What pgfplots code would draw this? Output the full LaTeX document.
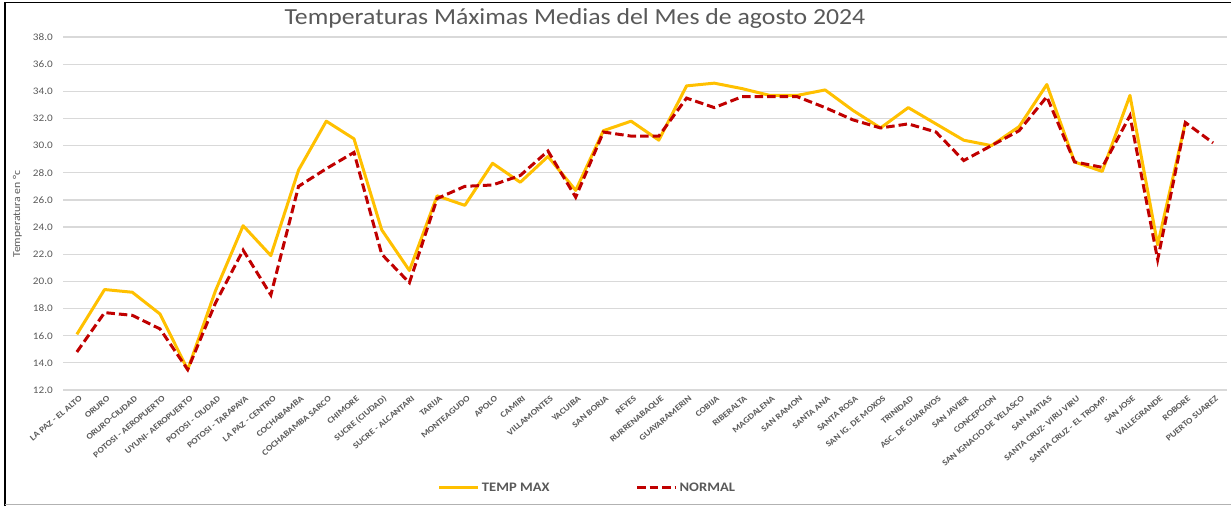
\documentclass[border=0pt]{standalone}
\usepackage{fontspec}
\setmainfont{Carlito}[FakeStretch=1.12]
\usepackage{pgfplots}
\pgfplotsset{compat=1.18}
\definecolor{tgray}{HTML}{595959}
\definecolor{gridc}{HTML}{D9D9D9}
\definecolor{tmax}{HTML}{FFC000}
\definecolor{tnorm}{HTML}{C00000}
\begin{document}
\begin{tikzpicture}
\useasboundingbox (0pt,0pt) rectangle (1231pt,506pt);
\draw[black, line width=1.5pt] (5pt,0pt) -- (5pt,503.5pt) -- (1231pt,503.5pt);
\draw[gray!60, line width=1pt] (5pt,1.5pt) -- (1231pt,1.5pt);
\node[anchor=base, font=\fontsize{23}{26}\selectfont, text=tgray] at (575pt,481pt) {Temperaturas Máximas Medias del Mes de agosto 2024};
\node[rotate=90, font=\fontsize{10.5}{12}\selectfont, text=tgray] at (17.5pt,292pt) {Temperatura en °c};
\begin{axis}[at={(63pt,116pt)}, anchor=south west, width=1164pt, height=353pt, scale only axis,
 xmin=-0.5, xmax=41.5, ymin=12, ymax=38,
 ytick={12,14,...,38}, ymajorgrids, grid style={gridc, line width=1.2pt},
 axis line style={draw=none}, major tick length=0pt,
 xtick={0,...,41},
 xticklabels={{LA PAZ - EL ALTO},{ORURO},{ORURO-CIUDAD},{POTOSI - AEROPUERTO},{UYUNI- AEROPUERTO},{POTOSI - CIUDAD},{POTOSI - TARAPAYA},{LA PAZ - CENTRO},{COCHABAMBA},{COCHABAMBA SARCO},{CHIMORE},{SUCRE (CIUDAD)},{SUCRE - ALCANTARI},{TARIJA},{MONTEAGUDO},{APOLO},{CAMIRI},{VILLAMONTES},{YACUIBA},{SAN BORJA},{REYES},{RURRENABAQUE},{GUAYARAMERIN},{COBIJA},{RIBERALTA},{MAGDALENA},{SAN RAMON},{SANTA ANA},{SANTA ROSA},{SAN IG. DE MOXOS},{TRINIDAD},{ASC. DE GUARAYOS},{SAN JAVIER},{CONCEPCION},{SAN IGNACIO DE VELASCO},{SAN MATIAS},{SANTA CRUZ- VIRU VIRU},{SANTA CRUZ - EL TROMP.},{SAN JOSE},{VALLEGRANDE},{ROBORE},{PUERTO SUAREZ}},
 xticklabel style={font=\fontsize{8.5}{9}\selectfont\bfseries, text=tgray, inner sep=0pt, xshift=4pt, yshift=-7.5pt, rotate=40, anchor=east},
 yticklabel style={font=\fontsize{10}{12}\selectfont, text=tgray, inner sep=0pt, xshift=-10pt, anchor=east,
   /pgf/number format/.cd, fixed, fixed zerofill, precision=1, assume math mode=true},
 legend style={at={(0.4506,-0.2776)}, anchor=center, draw=none, fill=none, legend columns=2,
   font=\fontsize{13}{15}\selectfont\bfseries, text=tgray,
   /tikz/every even column/.append style={column sep=84pt}},
 legend image code/.code={\draw[#1] (0pt,0pt) -- (39pt,0pt);},
]
\addplot[tmax, line width=3pt, line join=round] coordinates {
(0,16.1)(1,19.4)(2,19.2)(3,17.6)(4,13.5)(5,19.3)(6,24.1)(7,21.9)(8,28.2)(9,31.8)
(10,30.5)(11,23.8)(12,20.8)(13,26.3)(14,25.6)(15,28.7)(16,27.3)(17,29.2)(18,26.7)(19,31.1)
(20,31.8)(21,30.4)(22,34.4)(23,34.6)(24,34.2)(25,33.7)(26,33.7)(27,34.1)(28,32.6)(29,31.3)
(30,32.8)(31,31.6)(32,30.4)(33,30.0)(34,31.4)(35,34.5)(36,28.8)(37,28.1)(38,33.7)(39,22.7)
(40,31.7)};
\addlegendentry{TEMP MAX}
\addplot[tnorm, line width=3pt, dash pattern=on 8.5pt off 4pt] coordinates {
(0,14.8)(1,17.7)(2,17.5)(3,16.5)(4,13.5)(5,18.4)(6,22.3)(7,19.0)(8,27.0)(9,28.3)
(10,29.5)(11,22.0)(12,19.9)(13,26.1)(14,27.0)(15,27.1)(16,27.8)(17,29.6)(18,26.2)(19,31.0)
(20,30.7)(21,30.7)(22,33.5)(23,32.8)(24,33.6)(25,33.6)(26,33.6)(27,32.8)(28,31.9)(29,31.3)
(30,31.6)(31,31.0)(32,28.9)(33,30.0)(34,31.1)(35,33.6)(36,28.8)(37,28.4)(38,32.2)(39,21.6)
(40,31.7)(41,30.2)};
\addlegendentry{NORMAL}
\end{axis}
\end{tikzpicture}
\end{document}
